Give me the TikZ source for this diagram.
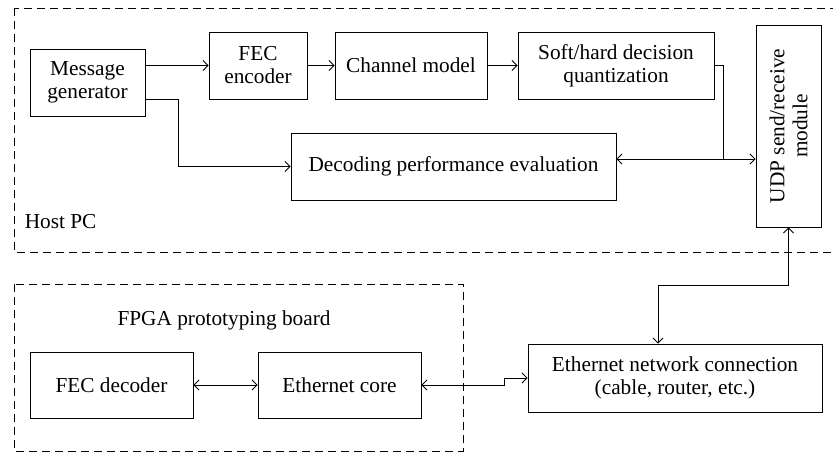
\documentclass[tikz,border=0pt]{standalone}
\usepackage{fontspec}
\setmainfont{Liberation Serif}
\usetikzlibrary{arrows.meta}

\begin{document}
\begin{tikzpicture}[x=1pt, y=-1pt, line width=0.9pt, >={Straight Barb[length=5pt,width=10pt]},
		font=\fontsize{21.3}{23}\selectfont]
			\tikzstyle{block}  = [draw=black, fill=white, align=center, inner sep=2pt]
			\tikzstyle{area}   = [draw=black, dash pattern=on 8pt off 5pt]

			\useasboundingbox (0,0) rectangle (833,452);

			% dashed areas
			\draw[area] (14,8) rectangle (845,252);
			\draw[area] (14,284) rectangle (463,451);
			\node[anchor=west] (host) at (21,222) {Host PC};
			\node (fpga) at (224,320) {FPGA prototyping board};

			% host PC blocks
			\foreach \name/\x/\y/\w/\h/\text in {
					msg/87.5/82.5/115/67/{Message\\generator},
					fec/258/65.5/98/67/{FEC\\encoder},
					chan/411/65.5/152/67/{Channel model},
					soft/616/65.5/196/67/{Soft/hard decision\\quantization},
					dec/453.5/166.5/325/67/{Decoding performance evaluation},
					fecdec/111.5/385/163/66/{FEC decoder},
					core/339.5/385/163/66/{Ethernet core},
					net/675/378/294/68/{Ethernet network connection\\(cable, router, etc.)}}
				\node[block, minimum width=\w pt, minimum height=\h pt] (\name) at (\x, \y) {\text};

			\node[block, rotate=90, minimum width=202pt, minimum height=65pt] (udp) at (788.5,126) {UDP send/receive\\module};

			\coordinate (split) at (178,99);
			\coordinate (join) at (723,159);
			\coordinate (hop) at (658,285);
			\coordinate (jog) at (504,385);

			\draw[->] (msg.east |- fec.west) -- (fec.west);
			\draw[->] ([yshift=-16.5pt]msg.east) -- (split) |- (dec.west);
			\foreach \from/\to in {fec/chan, chan/soft}
				\draw[->] (\from) -- (\to);
			\draw (soft.east) -| (join);
			\draw[<->] (dec.east |- join) -- (join -| udp.north);
			\draw[<->] (udp.west) |- (hop) -- (hop |- net.north);
			\draw[<->] (fecdec) -- (core);
			\draw[<->] (core.east) -- (jog) |- (net.west);
		\end{tikzpicture}
\end{document}
